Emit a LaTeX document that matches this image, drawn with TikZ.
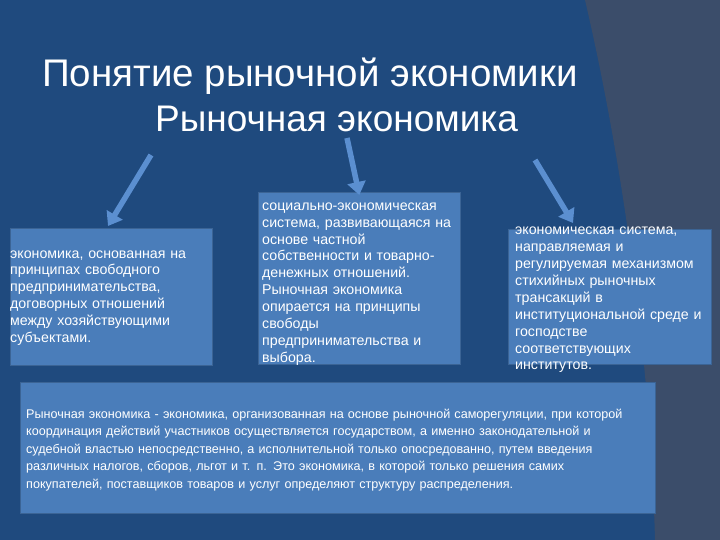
\documentclass[tikz,border=0pt]{standalone}
\usepackage{fontspec}
\setmainfont{Liberation Sans}
\usetikzlibrary{arrows.meta}
\definecolor{bgA}{HTML}{1F4A7E}
\definecolor{bgB}{HTML}{3B4D6A}
\definecolor{boxc}{HTML}{4A7DBA}
\definecolor{arr}{HTML}{5B8FD0}
\tikzset{
 box/.style={fill=boxc,draw=boxc!80!black,line width=0.6pt,anchor=north west,inner sep=0pt},
 txt/.style={text=white,font=\fontsize{14.2}{16.9}\selectfont,align=left,anchor=west,inner sep=0pt},
 bigarr/.style={draw=arr,line width=5.5pt,-{Triangle[length=13pt,width=18pt]}}
}
\begin{document}
\begin{tikzpicture}[x=1pt,y=-1pt]
\useasboundingbox (0,0) rectangle (720,540);
\fill[bgA] (0,0) rectangle (720,540);
\fill[bgB] (585,0) .. controls (620,150) and (650,350) .. (655,540) -- (720,540) -- (720,0) -- cycle;
\node[text=white,font=\fontsize{38.5}{40}\selectfont,anchor=base west,inner sep=0pt] (t1) at (42,87) {Понятие рыночной экономики};
\node[text=white,font=\fontsize{37}{40}\selectfont,anchor=base west,inner sep=0pt] (t2) at (155,132) {Рыночная экономика};
\node[box,minimum width=202pt,minimum height=137pt] (b1) at (10,228) {};
\node[box,minimum width=202pt,minimum height=172pt] (b2) at (258,192) {};
\node[box,minimum width=203pt,minimum height=135pt] (b3) at (508,229) {};
\node[box,minimum width=635pt,minimum height=131pt] (b4) at (20,382) {};
\coordinate (a1) at (151,155);
\coordinate (a2) at (347,138);
\coordinate (a3) at (535,160);
\coordinate (e1) at (108,226);
\coordinate (e3) at (573,223);
\draw[bigarr] (a1) -- (e1);
\draw[bigarr] (a2) -- ([yshift=-3pt]b2.north);
\draw[bigarr] (a3) -- (e3);
\node[txt,text width=200pt] (x1) at (10,298) {экономика, основанная на\\принципах свободного\\предпринимательства,\\договорных отношений\\между хозяйствующими\\субъектами.};
\node[txt,text width=200pt] (x2) at (262,284) {социально-экономическая\\система, развивающаяся на\\основе частной\\собственности и товарно-\\денежных отношений.\\Рыночная экономика\\опирается на принципы\\свободы\\предпринимательства и\\выбора.};
\node[txt,text width=205pt] (x3) at (515,300) {экономическая система,\\направляемая и\\регулируемая механизмом\\стихийных рыночных\\трансакций в\\институциональной среде и\\господстве\\соответствующих\\институтов.};
\node[txt,text width=630pt,font=\fontsize{12.6}{17.5}\selectfont] (x4) at (26,450) {Рыночная экономика - экономика, организованная на основе рыночной саморегуляции, при которой\\координация действий участников осуществляется государством, а именно законодательной и\\судебной властью непосредственно, а исполнительной только опосредованно, путем введения\\различных налогов, сборов, льгот и т. п. Это экономика, в которой только решения самих\\покупателей, поставщиков товаров и услуг определяют структуру распределения.};
\end{tikzpicture}
\end{document}
